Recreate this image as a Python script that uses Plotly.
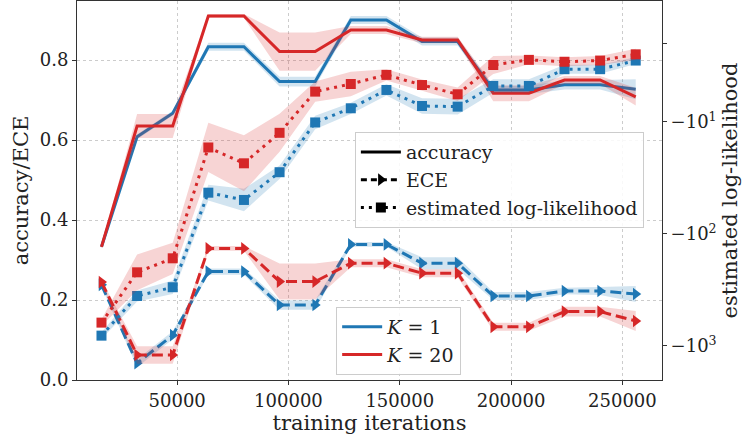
import numpy as np
import plotly.graph_objects as go

# ---------------- data ----------------
iterations = [16000, 32000, 48000, 64000, 80000, 96000, 112000, 128000,
              144000, 160000, 176000, 192000, 208000, 224000, 240000, 256000]

acc_k1 = [0.333, 0.608, 0.667, 0.833, 0.833, 0.746, 0.746, 0.900,
          0.900, 0.846, 0.846, 0.725, 0.725, 0.738, 0.738, 0.727]
acc_k1_err = [0.004, 0.006, 0.006, 0.010, 0.010, 0.012, 0.012, 0.010,
              0.010, 0.010, 0.010, 0.010, 0.010, 0.012, 0.012, 0.025]
acc_k20 = [0.333, 0.635, 0.635, 0.910, 0.910, 0.821, 0.821, 0.875,
           0.875, 0.850, 0.850, 0.717, 0.717, 0.750, 0.750, 0.708]
acc_k20_err = [0.004, 0.030, 0.030, 0.005, 0.005, 0.048, 0.048, 0.010,
               0.010, 0.008, 0.008, 0.020, 0.020, 0.010, 0.010, 0.022]

ece_k1 = [0.238, 0.042, 0.112, 0.271, 0.271, 0.1875, 0.1875, 0.339,
          0.339, 0.292, 0.292, 0.210, 0.210, 0.2225, 0.2225, 0.215]
ece_k1_err = [0.005, 0.010, 0.010, 0.008, 0.008, 0.012, 0.012, 0.006,
              0.006, 0.015, 0.015, 0.010, 0.010, 0.008, 0.010, 0.020]
ece_k20 = [0.245, 0.0625, 0.0625, 0.329, 0.329, 0.246, 0.246, 0.292,
           0.292, 0.267, 0.267, 0.133, 0.133, 0.171, 0.171, 0.1475]
ece_k20_err = [0.005, 0.022, 0.022, 0.006, 0.006, 0.045, 0.045, 0.010,
               0.010, 0.010, 0.010, 0.010, 0.010, 0.012, 0.012, 0.025]

ll_k1 = [-809, -358, -299, -42.8, -49.7, -28.1, -10.1, -7.55,
         -5.18, -7.2, -7.3, -4.77, -4.77, -3.38, -3.38, -2.83]
ll_k1_err_dec = [0.03, 0.05, 0.06, 0.07, 0.10, 0.06, 0.06, 0.05,
                 0.05, 0.07, 0.07, 0.06, 0.06, 0.04, 0.04, 0.03]
ll_k20 = [-619, -220, -165, -16.9, -23.4, -12.5, -5.36, -4.58,
          -3.80, -4.68, -5.66, -3.10, -2.79, -2.90, -2.83, -2.49]
ll_k20_err_dec = [0.03, 0.16, 0.14, 0.22, 0.25, 0.17, 0.09, 0.11,
                  0.05, 0.05, 0.06, 0.08, 0.04, 0.04, 0.04, 0.05]

ll_tick_values = [-2, -10, -100, -1000]
ll_tick_labels = ["", "\u221210<sup>1</sup>", "\u221210<sup>2</sup>", "\u221210<sup>3</sup>"]

BLUE = "#1f77b4"
RED = "#d62728"
BLUE_FILL = "rgba(31,119,180,0.2)"
RED_FILL = "rgba(214,39,40,0.2)"
FONT = "DejaVu Serif"


def tlog(v):
    # negative log axis: position = -log10(-value)
    return -np.log10(-np.asarray(v, dtype=float))


fig = go.Figure()


def band(x, lo, hi, fill, yaxis="y"):
    xs = list(x) + list(x)[::-1]
    ys = list(hi) + list(lo)[::-1]
    fig.add_trace(go.Scatter(x=xs, y=ys, fill="toself", fillcolor=fill,
                             line=dict(width=0), mode="lines", hoverinfo="skip",
                             showlegend=False, yaxis=yaxis))


def series(color, fill, acc, acc_err, ece, ece_err, ll, ll_err):
    acc = np.array(acc); acc_err = np.array(acc_err)
    ece = np.array(ece); ece_err = np.array(ece_err)
    tl = tlog(ll); ll_err = np.array(ll_err)
    band(iterations, acc - acc_err, acc + acc_err, fill)
    fig.add_trace(go.Scatter(x=iterations, y=acc, mode="lines",
                             line=dict(color=color, width=3), showlegend=False))
    band(iterations, ece - ece_err, ece + ece_err, fill)
    fig.add_trace(go.Scatter(x=iterations, y=ece, mode="lines+markers",
                             line=dict(color=color, width=3, dash="11px,5px"),
                             marker=dict(symbol="triangle-right", size=11, color=color),
                             showlegend=False))
    band(iterations, tl - ll_err, tl + ll_err, fill, yaxis="y2")
    fig.add_trace(go.Scatter(x=iterations, y=tl, mode="lines+markers", yaxis="y2",
                             line=dict(color=color, width=3, dash="3px,5px"),
                             marker=dict(symbol="square", size=10, color=color),
                             showlegend=False))


series(BLUE, BLUE_FILL, acc_k1, acc_k1_err, ece_k1, ece_k1_err, ll_k1, ll_k1_err_dec)
series(RED, RED_FILL, acc_k20, acc_k20_err, ece_k20, ece_k20_err, ll_k20, ll_k20_err_dec)

# legend 1: metric styles
fig.add_trace(go.Scatter(x=[None], y=[None], mode="lines", name="accuracy",
                         line=dict(color="black", width=3), legend="legend"))
fig.add_trace(go.Scatter(x=[None], y=[None], mode="lines+markers", name="ECE",
                         line=dict(color="black", width=3, dash="6px,4px"),
                         marker=dict(symbol="triangle-right", size=11, color="black"),
                         legend="legend"))
fig.add_trace(go.Scatter(x=[None], y=[None], mode="lines+markers",
                         name="estimated log-likelihood",
                         line=dict(color="black", width=3, dash="3px,5px"),
                         marker=dict(symbol="square", size=10, color="black"),
                         legend="legend"))
# legend 2: K
fig.add_trace(go.Scatter(x=[None], y=[None], mode="lines", name="<i>K</i> = 1",
                         line=dict(color=BLUE, width=3), legend="legend2"))
fig.add_trace(go.Scatter(x=[None], y=[None], mode="lines", name="<i>K</i> = 20",
                         line=dict(color=RED, width=3), legend="legend2"))

axis_common = dict(showline=True, linecolor="#333333", linewidth=1,
                   ticks="outside", ticklen=4, tickcolor="#333333",
                   tickfont=dict(family=FONT, size=18, color="#222222"),
                   zeroline=False, automargin=False)

fig.update_layout(
    template="none",
    width=742, height=435,
    margin=dict(l=77, r=80, t=1, b=55),
    paper_bgcolor="white", plot_bgcolor="white",
    font=dict(family=FONT, size=18, color="#222222"),
    xaxis=dict(range=[5000, 267800], tickvals=[50000, 100000, 150000, 200000, 250000],
               ticktext=["50000", "100000", "150000", "200000", "250000"],
               showgrid=True, gridcolor="#cccccc", griddash="dot", gridwidth=1,
               mirror=True,
               title=dict(text="training iterations", font=dict(family=FONT, size=21),
                          standoff=2),
               **axis_common),
    yaxis=dict(range=[0, 0.9475], tickvals=[0, 0.2, 0.4, 0.6, 0.8],
               ticktext=["0.0", "0.2", "0.4", "0.6", "0.8"],
               showgrid=True, gridcolor="#cccccc", griddash="dot", gridwidth=1,
               title=dict(text="accuracy/ECE", font=dict(family=FONT, size=21),
                          standoff=5),
               **axis_common),
    yaxis2=dict(overlaying="y", side="right", range=[-3.304, 0.080],
                tickvals=list(tlog(ll_tick_values)), ticktext=ll_tick_labels,
                showgrid=False,
                title=dict(text="estimated log-likelihood", font=dict(family=FONT, size=21),
                           standoff=9),
                **axis_common),
    legend=dict(x=0.475, y=0.654, xanchor="left", yanchor="top",
                bgcolor="rgba(255,255,255,0.85)", bordercolor="#cccccc", borderwidth=1,
                itemwidth=40,
                font=dict(family=FONT, size=19, color="#222222"), tracegroupgap=0),
    legend2=dict(x=0.443, y=0.193, xanchor="left", yanchor="top",
                 bgcolor="rgba(255,255,255,0.85)", bordercolor="#cccccc", borderwidth=1,
                 itemwidth=40,
                 font=dict(family=FONT, size=19, color="#222222")),
)

fig.write_html("out.html", config={"displayModeBar": False},
               post_script="document.body.style.margin='0px';")
